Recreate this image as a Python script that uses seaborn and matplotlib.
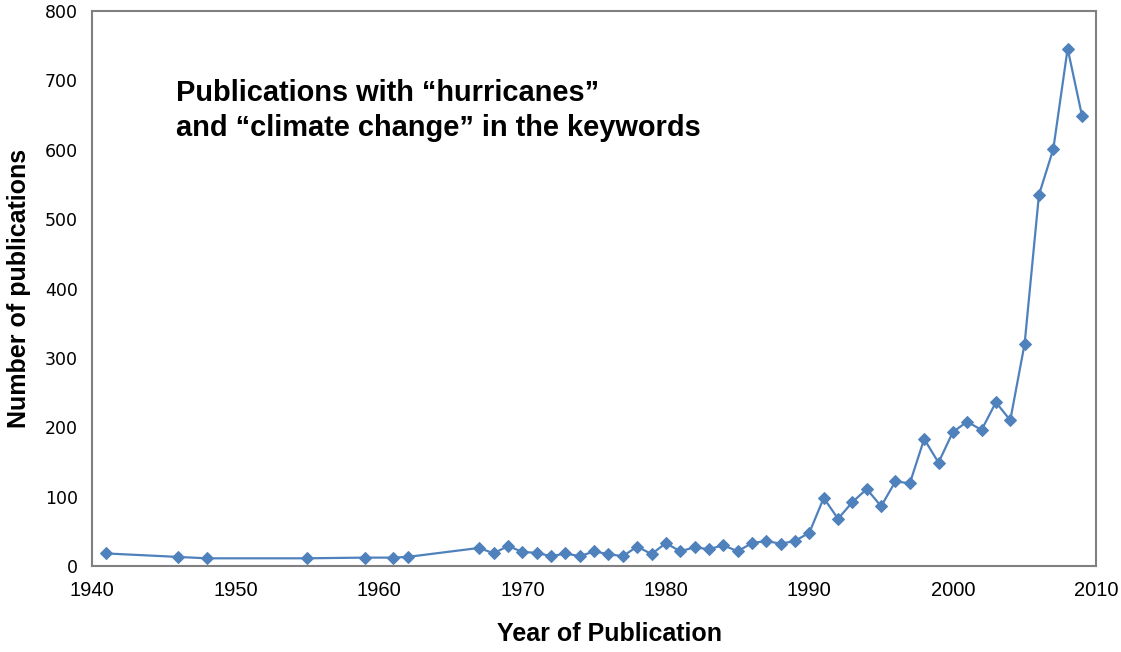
import matplotlib
matplotlib.use("Agg")
import matplotlib.pyplot as plt
import seaborn as sns
import pandas as pd

# Anos e número de publicações
anos = [1941, 1946, 1948, 1955, 1959, 1961, 1962,
        1967, 1968, 1969, 1970, 1971, 1972, 1973, 1974, 1975, 1976, 1977, 1978, 1979,
        1980, 1981, 1982, 1983, 1984, 1985, 1986, 1987, 1988, 1989,
        1990, 1991, 1992, 1993, 1994, 1995, 1996, 1997, 1998, 1999,
        2000, 2001, 2002, 2003, 2004, 2005, 2006, 2007, 2008, 2009]
publicacoes = [18, 13, 11, 11, 12, 12, 13,
               26, 18, 29, 20, 19, 14, 18, 14, 21, 17, 14, 28, 17,
               33, 21, 27, 24, 30, 21, 33, 36, 32, 36,
               48, 98, 68, 92, 111, 86, 122, 119, 183, 149,
               193, 208, 196, 236, 210, 320, 535, 601, 746, 649]

x_ticks = [1940, 1950, 1960, 1970, 1980, 1990, 2000, 2010]
y_ticks = [0, 100, 200, 300, 400, 500, 600, 700, 800]

titulo = "Publications with \u201churricanes\u201d\nand \u201cclimate change\u201d in the keywords"

df = pd.DataFrame({"ano": anos, "n": publicacoes})

sns.set_style("white")
plt.rcParams["font.family"] = ["DejaVu Sans"]
plt.rcParams["text.color"] = "black"
plt.rcParams["axes.labelcolor"] = "black"

fig = plt.figure(figsize=(11.21, 6.52), dpi=100)
ax = fig.add_axes([0.082, 0.132, 0.896, 0.851])

sns.lineplot(data=df, x="ano", y="n", ax=ax, color="#4F81BD", linewidth=1.6,
             marker="D", markersize=6.5, markeredgecolor="#4F81BD")

ax.set_xlim(1940, 2010)
ax.set_ylim(0, 800)
ax.set_xticks(x_ticks)
ax.set_yticks(y_ticks)
ax.tick_params(direction="in", length=7, width=1, color="#808080", labelcolor="black")
ax.tick_params(axis="y", labelsize=12.5, pad=10)
ax.tick_params(axis="x", labelsize=14.5, pad=11)
for lbl in ax.get_xticklabels():
    lbl.set_family(["Liberation Sans", "DejaVu Sans"])
for s in ax.spines.values():
    s.set_color("#808080")
    s.set_linewidth(1.5)

fonte_negrito = dict(family=["Liberation Sans", "DejaVu Sans"], fontweight="bold")
ax.set_xlabel("Year of Publication", fontsize=18, labelpad=16, **fonte_negrito)
ax.xaxis.label.set_x(0.515)
ax.set_ylabel("Number of publications", fontsize=18, labelpad=10, **fonte_negrito)

ax.text(0.084, 0.878, titulo, transform=ax.transAxes, fontsize=20.9,
        va="top", ha="left", linespacing=1.33, **fonte_negrito)

fig.savefig("out.png", dpi=100)
